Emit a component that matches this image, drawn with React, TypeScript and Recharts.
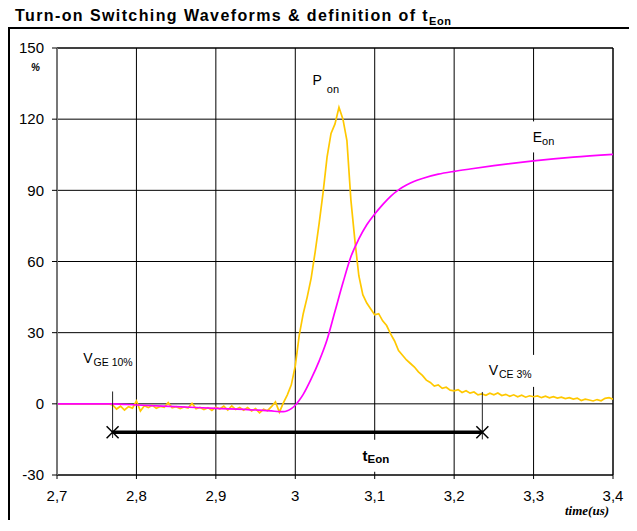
import React from 'react';
import {
  LineChart, Line, XAxis, YAxis, CartesianGrid, ReferenceLine, ReferenceDot
} from 'recharts';

// P_on trace (time in us, % of peak)
const ponTime = [
  2.7, 2.765, 2.77, 2.775, 2.78, 2.785, 2.79, 2.795, 2.8, 2.805, 2.81, 2.815, 2.82, 2.825, 2.83, 2.835,
  2.84, 2.845, 2.85, 2.855, 2.86, 2.865, 2.87, 2.875, 2.88, 2.885, 2.89, 2.895, 2.9, 2.905, 2.91, 2.915,
  2.92, 2.925, 2.93, 2.935, 2.94, 2.945, 2.95, 2.955, 2.96, 2.965, 2.97, 2.975, 2.98, 2.985, 2.99, 2.995,
  3.0, 3.005, 3.01, 3.015, 3.02, 3.025, 3.03, 3.035, 3.04, 3.045, 3.05, 3.055, 3.06, 3.065, 3.07, 3.075,
  3.08, 3.085, 3.09, 3.095, 3.1, 3.105, 3.11, 3.115, 3.12, 3.125, 3.13, 3.135, 3.14, 3.145, 3.15, 3.155,
  3.16, 3.165, 3.17, 3.175, 3.18, 3.185, 3.19, 3.195, 3.2, 3.205, 3.21, 3.215, 3.22, 3.225, 3.23, 3.235,
  3.24, 3.245, 3.25, 3.255, 3.26, 3.265, 3.27, 3.275, 3.28, 3.285, 3.29, 3.295, 3.3, 3.305, 3.31, 3.315,
  3.32, 3.325, 3.33, 3.335, 3.34, 3.345, 3.35, 3.355, 3.36, 3.365, 3.37, 3.375, 3.38, 3.385, 3.39, 3.395, 3.4
];
const ponValue = [
  0, 0, -0.5, -2.2, -1.0, -2.6, -1.2, -1.8, 1.2, -3.0, -0.8, -1.6, -0.6, -1.9, -1.1, -1.5,
  0.5, -1.7, -1.2, -2.0, -1.3, -1.8, 0.2, -2.1, -1.5, -2.4, -1.6, -2.8, -1.4, -2.2, -1.0, -2.6,
  -0.9, -2.4, -1.5, -2.7, -1.6, -3.0, -2.0, -3.8, -2.3, -2.9, -1.2, 0.8, -3.5, 0.4, 3.8, 8.0,
  16, 29, 38, 45, 53, 64, 76, 89, 104, 114, 118, 125, 120, 111, 86, 69,
  54, 46, 42.5, 40, 37.5, 38, 35, 33, 29.5, 26.5, 22.5, 20.5, 18.5, 17, 15.5, 13.5,
  12, 10, 9, 7.5, 8, 6.5, 7, 5.8, 5.5, 6, 4.8, 5.5, 4.5, 5, 3.8, 4.2,
  3.6, 4.5, 3.8, 4.6, 3.5, 4.0, 3.2, 3.8, 3.0, 3.6, 2.8, 3.4, 3.0, 3.3, 2.6, 3.2,
  2.5, 3.0, 2.4, 2.8, 2.2, 2.6, 2.0, 2.4, 1.4, 2.0, 1.6, 1.2, 1.8, 1.3, 2.3, 2.6, 2.0
];

// E_on trace
const eonTime = [
  2.7, 2.77, 2.8, 2.85, 2.9, 2.95, 2.97, 2.98, 2.985, 2.99, 2.995, 3.0, 3.005, 3.01, 3.02, 3.03,
  3.04, 3.05, 3.06, 3.07, 3.08, 3.09, 3.1, 3.11, 3.12, 3.13, 3.14, 3.15, 3.16, 3.18, 3.2, 3.22,
  3.25, 3.3, 3.35, 3.4
];
const eonValue = [
  0, 0, -0.5, -1.2, -1.9, -2.6, -3.0, -3.3, -3.3, -2.9, -2.0, -0.6, 1.5, 4, 10.5, 18,
  27, 39, 51, 62, 69.5, 75.5, 80, 84, 87.5, 90.2, 92.2, 93.8, 95, 96.8, 98, 99,
  100.4, 102.4, 104, 105.2
];

const xTicks = [2.7, 2.8, 2.9, 3.0, 3.1, 3.2, 3.3, 3.4];
const yTicks = [-30, 0, 30, 60, 90, 120, 150];

// t_Eon definition: from V_GE 10% to V_CE 3%
const tStart = 2.77;
const tEnd = 3.2355;
const barLevel = -12;

const ponData = ponTime.map((t, i) => ({ t, v: ponValue[i] }));
const eonData = eonTime.map((t, i) => ({ t, v: eonValue[i] }));

const FONT = '"Liberation Sans", Arial, sans-serif';

const fmtX = (v: number) => String(Math.round(v * 10) / 10).replace('.', ',');

// text with a subscript, optional white backing box (hides grid lines like the original)
const SubText = (props: any) => {
  const { cx, cy, main, sub, bold, size, subSize, subDx, subDy, box } = props;
  if (cx == null || cy == null) return null;
  return (
    <g>
      {box && <rect x={cx + box[0]} y={cy + box[1]} width={box[2]} height={box[3]} fill="#fff" />}
      <text x={cx} y={cy} fontFamily={FONT} fontSize={size} fontWeight={bold ? 'bold' : 'normal'} fill="#000">
        <tspan>{main}</tspan>
        <tspan fontSize={subSize} dx={subDx} dy={subDy}>{sub}</tspan>
      </text>
    </g>
  );
};

const Cross = (props: any) => {
  const { cx, cy } = props;
  if (cx == null || cy == null) return null;
  const s = 6;
  return (
    <g stroke="#000" strokeWidth={1.5}>
      <line x1={cx - s} y1={cy - s} x2={cx + s} y2={cy + s} />
      <line x1={cx - s} y1={cy + s} x2={cx + s} y2={cy - s} />
    </g>
  );
};

const labels = [
  { x: 2.733, y: 17.3, main: 'V', sub: 'GE 10%', bold: false, size: 14, subSize: 10.5, subDx: 1, subDy: 3.5, box: null },
  { x: 3.2435, y: 12.2, main: 'V', sub: 'CE  3%', bold: false, size: 14, subSize: 10.5, subDx: 1, subDy: 3, box: [-3, -20, 52, 32] },
  { x: 3.299, y: 110.2, main: 'E', sub: 'on', bold: false, size: 14, subSize: 11, subDx: 0, subDy: 3, box: [-2, -21, 30, 31] },
  { x: 3.0216, y: 134.5, main: 'P', sub: 'on', bold: false, size: 14, subSize: 11, subDx: 5, subDy: 8, box: null },
  { x: 3.0846, y: -24, main: 't', sub: 'Eon', bold: true, size: 15, subSize: 11.5, subDx: 0, subDy: 2, box: [-4, -21, 34, 32] },
];

export default function App() {
  return (
    <div style={{ position: 'relative', width: 637, height: 520, marginTop: -8, marginLeft: -8, fontFamily: FONT }}>
      <div style={{ position: 'absolute', left: 15, top: 7, fontSize: 16, lineHeight: '18px', fontWeight: 'bold', letterSpacing: 1.4, whiteSpace: 'nowrap' }}>
        Turn-on Switching Waveforms &amp; definition of t
        <span style={{ fontSize: 11, letterSpacing: 0.5, position: 'relative', top: 4 }}>Eon</span>
      </div>
      <div style={{
        position: 'absolute', left: 8, top: 27, width: 622, height: 493,
        borderLeft: '2px solid #000', borderTop: '2px solid #000', borderRight: '2px solid #000'
      }} />
      <div style={{ position: 'absolute', left: 0, top: 0 }}>
        <LineChart width={637} height={520} margin={{ top: 48, right: 24, bottom: 15, left: 7 }}>
          <CartesianGrid stroke="#000" strokeWidth={1} />
          <XAxis
            type="number" dataKey="t" domain={[2.7, 3.4]} ticks={xTicks} allowDataOverflow
            tickFormatter={fmtX} height={30} tickSize={4} tickMargin={11}
            axisLine={{ stroke: '#000' }} tickLine={{ stroke: '#000' }}
            tick={{ fill: '#000', fontSize: 15, fontFamily: FONT }}
          />
          <YAxis
            type="number" dataKey="v" domain={[-30, 150]} ticks={yTicks} allowDataOverflow
            width={50} tickSize={5} tickMargin={8}
            axisLine={{ stroke: '#777', strokeWidth: 2 }} tickLine={{ stroke: '#000' }}
            tick={{ fill: '#000', fontSize: 15, fontFamily: FONT }}
          />
          <ReferenceLine x={3.4} stroke="#000" />
          <ReferenceLine y={150} stroke="#000" />
          <Line data={ponData} dataKey="v" type="linear" stroke="#FFC800" strokeWidth={1.7} dot={false} isAnimationActive={false} />
          <Line data={eonData} dataKey="v" type="monotone" stroke="#FF00FF" strokeWidth={1.7} dot={false} isAnimationActive={false} />
          <ReferenceLine segment={[{ x: tStart, y: 5.2 }, { x: tStart, y: -14.4 }]} stroke="#222" strokeWidth={1} />
          <ReferenceLine segment={[{ x: tEnd, y: 5 }, { x: tEnd, y: -15 }]} stroke="#222" strokeWidth={1} />
          <ReferenceLine segment={[{ x: tStart, y: barLevel }, { x: tEnd, y: barLevel }]} stroke="#000" strokeWidth={3.5} />
          <ReferenceDot x={tStart} y={barLevel} r={0} shape={(p: any) => <Cross {...p} />} />
          <ReferenceDot x={tEnd} y={barLevel} r={0} shape={(p: any) => <Cross {...p} />} />
          {labels.map((l, i) => (
            <ReferenceDot key={i} x={l.x} y={l.y} r={0} shape={(p: any) => <SubText {...p} {...l} />} />
          ))}
        </LineChart>
      </div>
      <div style={{ position: 'absolute', left: 31, top: 62, fontSize: 10, fontStyle: 'italic', fontWeight: 'bold' }}>%</div>
      <div style={{ position: 'absolute', left: 565, top: 503, fontSize: 13, fontStyle: 'italic', fontWeight: 'bold', fontFamily: '"Liberation Serif", "Times New Roman", serif' }}>
        time(us)
      </div>
    </div>
  );
}
